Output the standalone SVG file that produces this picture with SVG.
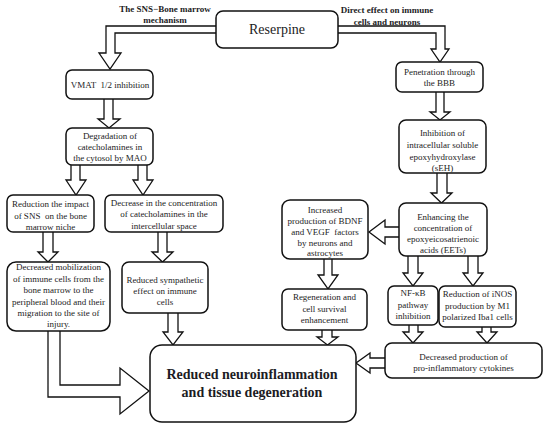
<svg xmlns="http://www.w3.org/2000/svg" width="550" height="426" viewBox="0 0 550 426" font-family="'Liberation Serif','Times New Roman',serif">
<style>
.box{fill:#fff;stroke:#111;stroke-width:1.5}
.arr{fill:#fff;stroke:#111;stroke-width:1.3;stroke-linejoin:miter}
text{font-family:"Liberation Serif","Times New Roman",serif;fill:#1c1c24;text-anchor:middle}
.t{font-size:9px}
.lbl{font-size:9px;font-weight:bold}
.big{font-size:14px;font-weight:bold}
.res{font-size:14px}
</style>
<rect width="550" height="426" fill="#fff"/>
<g id="connectors">
<path class="arr" d="M217 33 H115 V53 H121 L110 69 L99 53 H106 V26 H217"/>
<path class="arr" d="M337 33 H436 V49 H431 L440 62 L449 49 H445 V26 H337"/>
<path class="arr" d="M104 99 V119 H98 L109 128 L120 119 H113 V99"/>
<path class="arr" d="M71 165 V180 H66 L76 195 L86 180 H80 V165"/>
<path class="arr" d="M138 165 V180 H133 L143 195 L153 180 H147 V165"/>
<path class="arr" d="M43 232 V252 H38 L48 262 L58 252 H53 V232"/>
<path class="arr" d="M158 232 V252 H152 L162.5 262 L173 252 H167 V232"/>
<path class="arr" d="M168 313 V332 H163 L173 345 L183 332 H178 V313"/>
<path class="arr" d="M60 331 V385 H120 V368 L149 391 L120 414 V397 H48 V331"/>
<path class="arr" d="M436 92 V112 H430 L440 120 L450 112 H444 V92"/>
<path class="arr" d="M437 173 V193 H431 L441.5 203 L452 193 H447 V173"/>
<path class="arr" d="M399 227 H385 V220 L369 232 L385 244 V237 H399"/>
<path class="arr" d="M408 256 V273 H403 L413 286 L423 273 H418 V256"/>
<path class="arr" d="M468 256 V273 H463 L473 286 L483 273 H478 V256"/>
<path class="arr" d="M324 259 V275 H318 L328 289 L338 275 H332 V259"/>
<path class="arr" d="M322 330 V337 H317 L327.5 345 L338 337 H332 V330"/>
<path class="arr" d="M409 325 V332 H403 L413 343 L423 332 H418 V325"/>
<path class="arr" d="M482 327 V332 H477 L487 343 L497 332 H491 V327"/>
<path class="arr" d="M385 358 H370 V353 L356 363 L370 373 V368 H385"/>
</g>
<g id="label-sns">
<text class="lbl" x="165" y="11.5">The SNS−Bone marrow</text>
<text class="lbl" x="165" y="23">mechanism</text>
</g>
<g id="label-direct">
<text class="lbl" x="387" y="13">Direct effect on immune</text>
<text class="lbl" x="387" y="25">cells and neurons</text>
</g>
<g id="reserpine">
<rect class="box" x="216" y="11" width="122" height="37" rx="7"/>
<text class="res" x="277" y="34">Reserpine</text>
</g>
<g id="vmat">
<rect class="box" x="66" y="70" width="87" height="29" rx="6"/>
<text class="t" x="110" y="88" xml:space="preserve">VMAT  1/2 inhibition</text>
</g>
<g id="degradation">
<rect class="box" x="66" y="128" width="87" height="37" rx="6"/>
<text class="t" x="110" y="139">Degradation of</text>
<text class="t" x="110" y="150">catecholamines in</text>
<text class="t" x="110" y="161">the cytosol by MAO</text>
</g>
<g id="reduction-sns">
<rect class="box" x="7" y="195" width="87" height="37" rx="6"/>
<text class="t" x="50.5" y="207">Reduction the impact</text>
<text class="t" x="50.5" y="219" xml:space="preserve">of SNS  on the bone</text>
<text class="t" x="50.5" y="230">marrow niche</text>
</g>
<g id="decrease-conc">
<rect class="box" x="105" y="195" width="118" height="37" rx="6"/>
<text class="t" x="164" y="206">Decrease in the concentration</text>
<text class="t" x="164" y="217">of catecholamines in the</text>
<text class="t" x="164" y="229">intercellular space</text>
</g>
<g id="decreased-mobilization">
<rect class="box" x="7" y="262" width="103" height="69" rx="9"/>
<text class="t" x="58.5" y="270">Decreased mobilization</text>
<text class="t" x="58.5" y="281.5">of immune cells from the</text>
<text class="t" x="58.5" y="293">bone marrow to the</text>
<text class="t" x="58.5" y="304.5">peripheral blood and their</text>
<text class="t" x="58.5" y="316">migration to the site of</text>
<text class="t" x="58.5" y="327">injury.</text>
</g>
<g id="reduced-sympathetic">
<rect class="box" x="122" y="262" width="86" height="51" rx="7"/>
<text class="t" x="165" y="283">Reduced sympathetic</text>
<text class="t" x="165" y="294">effect on immune</text>
<text class="t" x="165" y="305">cells</text>
</g>
<g id="outcome">
<rect class="box" x="150" y="345" width="206" height="77" rx="12"/>
<text class="big" x="252" y="379">Reduced neuroinflammation</text>
<text class="big" x="252" y="397">and tissue degeneration</text>
</g>
<g id="penetration">
<rect class="box" x="396" y="62" width="87" height="30" rx="6"/>
<text class="t" x="439.5" y="75">Penetration through</text>
<text class="t" x="439.5" y="86">the BBB</text>
</g>
<g id="inhibition-seh">
<rect class="box" x="399" y="120" width="87" height="53" rx="7"/>
<text class="t" x="442.5" y="136">Inhibition of</text>
<text class="t" x="442.5" y="148">intracellular soluble</text>
<text class="t" x="442.5" y="160">epoxyhydroxylase</text>
<text class="t" x="442.5" y="171">(sEH)</text>
</g>
<g id="increased-bdnf">
<rect class="box" x="282" y="200" width="86" height="59" rx="8"/>
<text class="t" x="325" y="213">Increased</text>
<text class="t" x="325" y="224">production of BDNF</text>
<text class="t" x="325" y="235" xml:space="preserve">and VEGF  factors</text>
<text class="t" x="325" y="246">by neurons and</text>
<text class="t" x="325" y="256">astrocytes</text>
</g>
<g id="enhancing-eets">
<rect class="box" x="399" y="203" width="88" height="53" rx="7"/>
<text class="t" x="443" y="220">Enhancing the</text>
<text class="t" x="443" y="231">concentration of</text>
<text class="t" x="443" y="242">epoxyeicosatrienoic</text>
<text class="t" x="443" y="253">acids (EETs)</text>
</g>
<g id="regeneration">
<rect class="box" x="282" y="289" width="85" height="41" rx="6"/>
<text class="t" x="324.5" y="300">Regeneration and</text>
<text class="t" x="324.5" y="312">cell survival</text>
<text class="t" x="324.5" y="323">enhancement</text>
</g>
<g id="nfkb">
<rect class="box" x="388" y="286" width="50" height="39" rx="6"/>
<text class="t" x="413" y="296">NF-κB</text>
<text class="t" x="413" y="308">pathway</text>
<text class="t" x="413" y="319">inhibition</text>
</g>
<g id="inos">
<rect class="box" x="439" y="286" width="77" height="41" rx="6"/>
<text class="t" x="477.5" y="297">Reduction of iNOS</text>
<text class="t" x="477.5" y="309">production by M1</text>
<text class="t" x="477.5" y="320">polarized Iba1 cells</text>
</g>
<g id="decreased-cytokines">
<rect class="box" x="385" y="343" width="157" height="35" rx="7"/>
<text class="t" x="463.5" y="360">Decreased production of</text>
<text class="t" x="463.5" y="371">pro-inflammatory cytokines</text>
</g>
</svg>
